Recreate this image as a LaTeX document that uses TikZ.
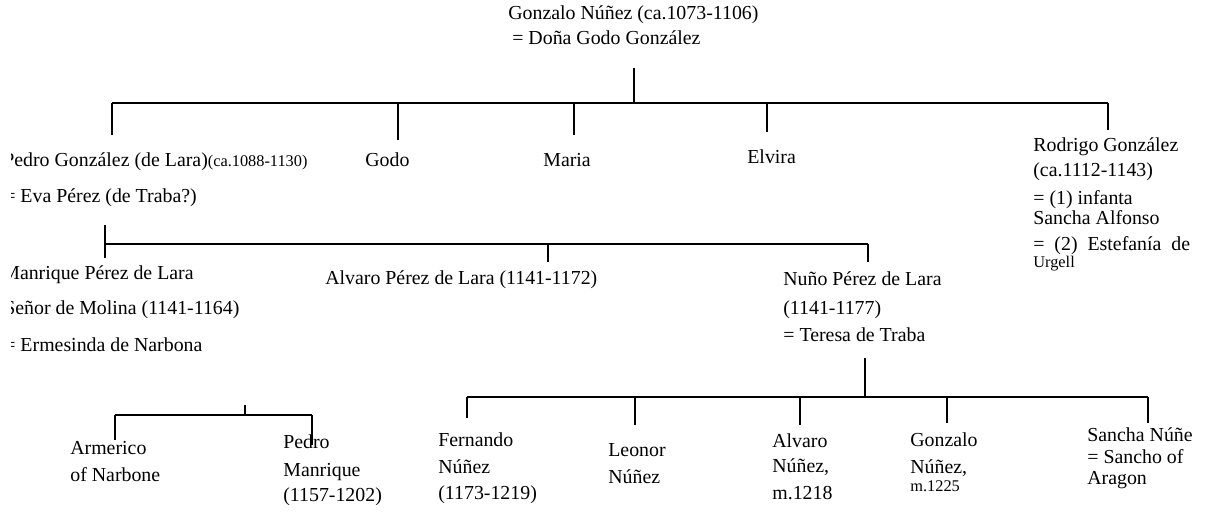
\documentclass[tikz,border=0pt]{standalone}
\usepackage{fontspec}
\setmainfont{Liberation Serif}
\usetikzlibrary{positioning}
\newcommand{\smtxt}[1]{{\fontsize{9.3}{11}\selectfont #1}}

\begin{document}
\begin{tikzpicture}[x=0.02cm,y=-0.02cm,font=\fontsize{11.3}{13}\selectfont,
    lbl/.style={anchor=west,inner sep=0pt},
    tree/.style={line width=0.9pt}]
    \useasboundingbox (0,0) rectangle (1213,515);
    \clip (11,0) rectangle (1213,515);
    % first generation
    \node[lbl] (gonzalo) at (508,15) {Gonzalo Núñez (ca.1073-1106)};
    \node[lbl] (gonzalo-w) at (512,38) {= Doña Godo González};
    % children of Gonzalo
    \node[lbl] (pedro) at (3,162) {Pedro González (de Lara)\smtxt{(ca.1088-1130)}};
    \node[lbl] (eva) at (4,198) {= Eva Pérez (de Traba?)};
    \node[lbl] (godo) at (365,160) {Godo};
    \node[lbl] (maria) at (543,160) {Maria};
    \node[lbl] (elvira) at (747,157) {Elvira};
    \node[lbl] (rodrigo) at (1033,147) {Rodrigo González};
    \node[lbl] (rodrigo-d) at (1033,172) {(ca.1112-1143)};
    \node[lbl] (rodrigo-m1) at (1033,200) {= (1) infanta};
    \node[lbl] (rodrigo-m1b) at (1033,218) {Sancha Alfonso};
    \node[lbl] (rodrigo-m2) at (1033,246) {=\ \ (2)\ \ Estefanía\ \ de};
    \node[lbl] (rodrigo-m2b) at (1033,264) {\smtxt{Urgell}};
    % children of Pedro
    \node[lbl] (manrique) at (2,275) {Manrique Pérez de Lara};
    \node[lbl] (manrique-t) at (4,310) {Señor de Molina (1141-1164)};
    \node[lbl] (manrique-w) at (4,345) {= Ermesinda de Narbona};
    \node[lbl] (alvaro) at (325,280) {Alvaro Pérez de Lara (1141-1172)};
    \node[lbl] (nuno) at (783,279) {Nuño Pérez de Lara};
    \node[lbl] (nuno-d) at (783,310) {(1141-1177)};
    \node[lbl] (nuno-w) at (783,335) {= Teresa de Traba};
    % children of Manrique
    \node[lbl] (armerico) at (70,448) {Armerico};
    \node[lbl] (armerico-b) at (70,475) {of Narbone};
    \node[lbl] (pedro-m) at (283,442) {Pedro};
    \node[lbl] (pedro-m-b) at (283,472) {Manrique};
    \node[lbl] (pedro-m-d) at (283,497) {(1157-1202)};
    % children of Nuno
    \node[lbl] (fernando) at (438,440) {Fernando};
    \node[lbl] (fernando-b) at (438,467) {Núñez};
    \node[lbl] (fernando-d) at (438,495) {(1173-1219)};
    \node[lbl] (leonor) at (608,450) {Leonor};
    \node[lbl] (leonor-b) at (608,477) {Núñez};
    \node[lbl] (alvaro-n) at (772,441) {Alvaro};
    \node[lbl] (alvaro-n-b) at (772,467) {Núñez,};
    \node[lbl] (alvaro-n-d) at (772,493) {m.1218};
    \node[lbl] (gonzalo-n) at (910,440) {Gonzalo};
    \node[lbl] (gonzalo-n-b) at (910,468) {Núñez,};
    \node[lbl] (gonzalo-n-d) at (910,486) {\smtxt{m.1225}};
    \node[lbl] (sancha) at (1087,435) {Sancha Núñe};
    \node[lbl] (sancha-w) at (1087,457) {= Sancho of};
    \node[lbl] (sancha-b) at (1087,480) {Aragon};
    % line ends
    \coordinate (stem1) at (634,68);
    \coordinate (bar1) at (634,103);
    \coordinate (pedro-up) at (112,135);
    \coordinate (godo-up) at (398,140);
    \coordinate (maria-up) at (574,135);
    \coordinate (elvira-up) at (767,132);
    \coordinate (rodrigo-up) at (1108,130);
    \coordinate (stem2) at (105,225);
    \coordinate (bar2) at (105,244);
    \coordinate (manrique-up) at (105,258);
    \coordinate (alvaro-up) at (548,262);
    \coordinate (nuno-up) at (868,262);
    \coordinate (stem3) at (865,358);
    \coordinate (bar3) at (865,397);
    \coordinate (fernando-up) at (467,418);
    \coordinate (leonor-up) at (635,425);
    \coordinate (alvaro-n-up) at (800,425);
    \coordinate (gonzalo-n-up) at (947,423);
    \coordinate (sancha-up) at (1148,423);
    \coordinate (stem4) at (245,405);
    \coordinate (bar4) at (245,415);
    \coordinate (armerico-up) at (115,440);
    \coordinate (pedro-m-up) at (312,445);
    % descent lines
    \draw[tree] (stem1) -- (bar1);
    \draw[tree] (pedro-up |- bar1) -- (rodrigo-up |- bar1);
    \foreach \c in {pedro,godo,maria,elvira,rodrigo}
    \draw[tree] (\c-up |- bar1) -- (\c-up);
    \draw[tree] (stem2) -- (manrique-up);
    \draw[tree] (bar2) -- (nuno-up |- bar2);
    \foreach \c in {alvaro,nuno}
    \draw[tree] (\c-up |- bar2) -- (\c-up);
    \draw[tree] (stem3) -- (bar3);
    \draw[tree] (fernando-up |- bar3) -- (sancha-up |- bar3);
    \foreach \c in {fernando,leonor,alvaro-n,gonzalo-n,sancha}
    \draw[tree] (\c-up |- bar3) -- (\c-up);
    \draw[tree] (stem4) -- (bar4);
    \draw[tree] (armerico-up |- bar4) -- (pedro-m-up |- bar4);
    \foreach \c in {armerico,pedro-m}
    \draw[tree] (\c-up |- bar4) -- (\c-up);
\end{tikzpicture}
\end{document}
